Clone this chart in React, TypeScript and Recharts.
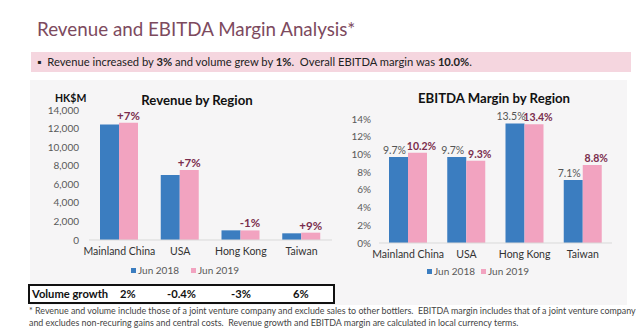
import { BarChart, Bar, XAxis, YAxis, LabelList, Legend } from 'recharts';

const regions = ['Mainland China', 'USA', 'Hong Kong', 'Taiwan'];
const revenue2018 = [12450, 7000, 1040, 720];
const revenue2019 = [12620, 7540, 1030, 790];
const revenueGrowth = ['+7%', '+7%', '-1%', '+9%'];
const margin2018 = [9.7, 9.7, 13.5, 7.1];
const margin2019 = [10.2, 9.3, 13.4, 8.8];
const revenueTicks = [0, 2000, 4000, 6000, 8000, 10000, 12000, 14000];
const marginTicks = [0, 2, 4, 6, 8, 10, 12, 14];
const volumeGrowth = ['2%', '-0.4%', '-3%', '6%'];

const BLUE = '#3b7dc0';
const PINK = '#f2a3c0';
const MAROON = '#7a2d4d';
const FONT = 'Lato, sans-serif';

const revenueData = regions.map((r, i) => ({
    region: r,
    y2018: revenue2018[i],
    y2019: revenue2019[i],
    growth: revenueGrowth[i],
}));

const marginData = regions.map((r, i) => ({
    region: r,
    y2018: margin2018[i],
    y2019: margin2019[i],
}));

function LegendItems({ pad, gap }: { pad: number; gap: number }) {
    const items = [
        { name: 'Jun 2018', color: BLUE },
        { name: 'Jun 2019', color: PINK },
    ];
    return (
        <div style={{ display: 'flex', paddingLeft: pad, fontSize: 10, color: '#595959', fontFamily: FONT }}>
            {items.map(it => (
                <div key={it.name} style={{ display: 'flex', alignItems: 'center', width: gap }}>
                    <span style={{ width: 5, height: 5, background: it.color, marginRight: 2 }} />
                    {it.name}
                </div>
            ))}
        </div>
    );
}

const pct = (v: any) => `${Number(v).toFixed(1)}%`;

export default function App() {
    const axisTick = { fontSize: 10, fill: '#595959', fontFamily: FONT };
    const catTick = { fontSize: 10.5, fill: '#333', fontFamily: FONT };

    return (
        <div
            style={{
                position: 'absolute',
                left: 0,
                top: 0,
                width: 640,
                height: 335,
                background: '#fff',
                overflow: 'hidden',
                fontFamily: FONT,
            }}
        >
            <div style={{ position: 'absolute', left: 37, top: 16, fontSize: 18.8, lineHeight: '26px', color: '#7d4a5e' }}>
                Revenue and EBITDA Margin Analysis*
            </div>

            <div
                style={{
                    position: 'absolute',
                    left: 31,
                    top: 52,
                    width: 600,
                    height: 20,
                    background: '#f5d6df',
                    fontSize: 11.2,
                    lineHeight: '20px',
                    color: '#222',
                    paddingLeft: 6,
                    boxSizing: 'border-box',
                }}
            >
                ▪&nbsp; Revenue increased by <b>3%</b> and volume grew by <b>1%</b>.&nbsp; Overall EBITDA margin was <b>10.0%</b>.
            </div>

            {/* grey panel */}
            <div style={{ position: 'absolute', left: 30, top: 80, width: 597, height: 225, background: '#f6f5f6' }} />

            <div style={{ position: 'absolute', left: 55, top: 92, fontSize: 10.5, fontWeight: 700, color: '#111' }}>HK$M</div>
            <div style={{ position: 'absolute', left: 0, width: 394, top: 92, textAlign: 'center', fontSize: 13.2, fontWeight: 700, color: '#111' }}>
                Revenue by Region
            </div>
            <div style={{ position: 'absolute', left: 330, width: 328, top: 90, textAlign: 'center', fontSize: 13.2, fontWeight: 700, color: '#111' }}>
                EBITDA Margin by Region
            </div>

            <div style={{ position: 'absolute', left: 30, top: 80 }}>
                <BarChart
                    width={310}
                    height={200}
                    data={revenueData}
                    margin={{ top: 30, right: 8, left: 0, bottom: 0 }}
                    barGap={0}
                    barSize={19}
                >
                    <XAxis
                        dataKey="region"
                        tick={catTick}
                        tickLine={false}
                        axisLine={{ stroke: '#d9d9d9' }}
                        height={24}
                        interval={0}
                    />
                    <YAxis
                        domain={[0, 14000]}
                        ticks={revenueTicks}
                        interval={0}
                        tick={axisTick}
                        tickFormatter={(v: number) => v.toLocaleString('en-US')}
                        axisLine={false}
                        tickLine={false}
                        tickSize={0}
                        tickMargin={10}
                        width={59}
                    />
                    <Legend verticalAlign="bottom" height={16} content={() => <LegendItems pad={101} gap={60} />} />
                    <Bar dataKey="y2018" name="Jun 2018" fill={BLUE} isAnimationActive={false} />
                    <Bar dataKey="y2019" name="Jun 2019" fill={PINK} isAnimationActive={false}>
                        <LabelList dataKey="growth" position="top" offset={3} fill={MAROON} fontSize={11.5} fontWeight={700} fontFamily={FONT} />
                    </Bar>
                </BarChart>
            </div>

            <div style={{ position: 'absolute', left: 330, top: 80 }}>
                <BarChart
                    width={290}
                    height={200}
                    data={marginData}
                    margin={{ top: 39, right: 8, left: 0, bottom: 0 }}
                    barGap={0}
                    barSize={19}
                >
                    <XAxis
                        dataKey="region"
                        tick={catTick}
                        tickLine={false}
                        axisLine={{ stroke: '#d9d9d9' }}
                        height={22}
                        interval={0}
                    />
                    <YAxis
                        domain={[0, 14]}
                        ticks={marginTicks}
                        interval={0}
                        tick={axisTick}
                        tickFormatter={(v: number) => `${v}%`}
                        axisLine={false}
                        tickLine={false}
                        tickSize={0}
                        tickMargin={8}
                        width={49}
                    />
                    <Legend verticalAlign="bottom" height={15} content={() => <LegendItems pad={97} gap={54} />} />
                    <Bar dataKey="y2018" name="Jun 2018" fill={BLUE} isAnimationActive={false}>
                        <LabelList
                            dataKey="y2018"
                            position="top"
                            offset={3}
                            dx={-4}
                            fill="#555"
                            fontSize={10.5}
                            fontFamily={FONT}
                            formatter={pct}
                        />
                    </Bar>
                    <Bar dataKey="y2019" name="Jun 2019" fill={PINK} isAnimationActive={false}>
                        <LabelList
                            dataKey="y2019"
                            position="top"
                            offset={3}
                            dx={4}
                            fill={MAROON}
                            fontSize={10.5}
                            fontWeight={700}
                            fontFamily={FONT}
                            formatter={pct}
                        />
                    </Bar>
                </BarChart>
            </div>

            {/* volume growth table */}
            <div
                style={{
                    position: 'absolute',
                    left: 28,
                    top: 284,
                    width: 307,
                    height: 20,
                    border: '2px solid #111',
                    boxSizing: 'border-box',
                    background: '#fff',
                    fontSize: 11.2,
                    fontWeight: 700,
                    lineHeight: '16px',
                    color: '#111',
                }}
            >
                <span style={{ position: 'absolute', left: 2 }}>Volume growth</span>
                {volumeGrowth.map((v, i) => (
                    <span key={v} style={{ position: 'absolute', left: [90, 137, 201, 263][i] }}>{v}</span>
                ))}
            </div>

            <div style={{ position: 'absolute', left: 29, top: 305, fontSize: 8.9, lineHeight: '12px', color: '#444', whiteSpace: 'nowrap' }}>
                * Revenue and volume include those of a joint venture company and exclude sales to other bottlers.&nbsp; EBITDA margin includes that of a joint venture company
                <br />
                and excludes non-recuring gains and central costs.&nbsp; Revenue growth and EBITDA margin are calculated in local currency terms.
            </div>
        </div>
    );
}
